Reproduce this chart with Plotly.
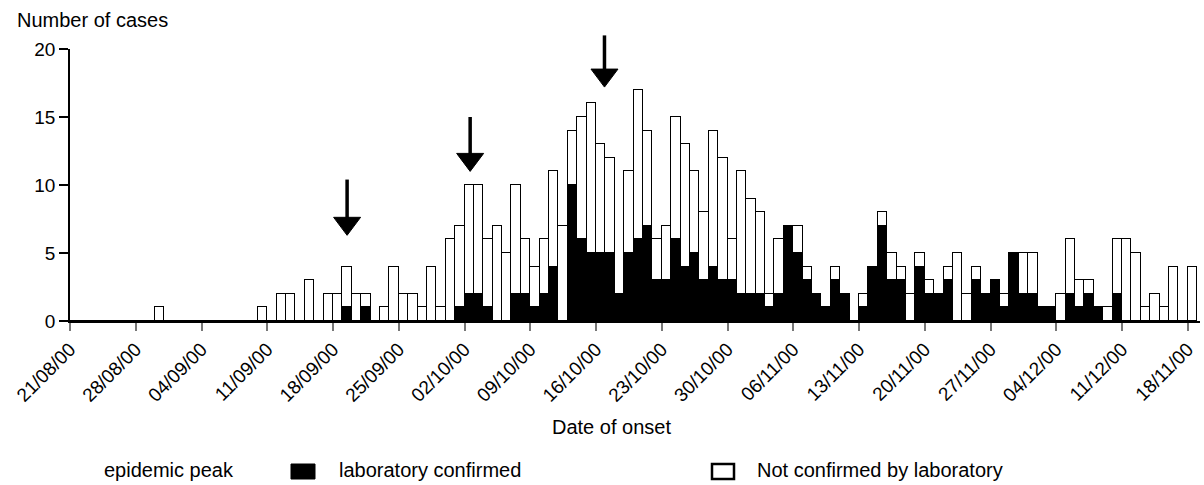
import plotly.graph_objects as go

# ---------------- data ----------------
tick_labels = ["21/08/00", "28/08/00", "04/09/00", "11/09/00", "18/09/00", "25/09/00",
               "02/10/00", "09/10/00", "16/10/00", "23/10/00", "30/10/00", "06/11/00",
               "13/11/00", "20/11/00", "27/11/00", "04/12/00", "11/12/00", "18/11/00"]
tick_days = [7 * k for k in range(len(tick_labels))]

# daily totals (days since 21/08/00)
total_cases = [
    0, 0, 0, 0, 0, 0, 0, 0, 0, 1,      # 0-9
    0, 0, 0, 0, 0, 0, 0, 0, 0, 0,      # 10-19
    1, 0, 2, 2, 0, 3, 0, 2, 2, 4,      # 20-29
    2, 2, 0, 1, 4, 2, 2, 1, 4, 1,      # 30-39
    6, 7, 10, 10, 6, 7, 5, 10, 6, 4,   # 40-49
    6, 11, 7, 14, 15, 16, 13, 12, 2, 11,  # 50-59
    17, 14, 6, 7, 15, 13, 11, 8, 14, 12,  # 60-69
    6, 11, 9, 8, 2, 6, 7, 7, 4, 2,     # 70-79
    1, 4, 2, 0, 2, 4, 8, 5, 4, 2,      # 80-89
    5, 3, 2, 4, 5, 2, 4, 2, 3, 2,      # 90-99
    5, 5, 5, 1, 1, 2, 6, 3, 3, 1,      # 100-109
    1, 6, 6, 5, 1, 2, 1, 4, 0, 4,      # 110-119
]
lab_confirmed = [
    0, 0, 0, 0, 0, 0, 0, 0, 0, 0,
    0, 0, 0, 0, 0, 0, 0, 0, 0, 0,
    0, 0, 0, 0, 0, 0, 0, 0, 0, 1,
    0, 1, 0, 0, 0, 0, 0, 0, 0, 0,
    0, 1, 2, 2, 1, 0, 0, 2, 2, 1,
    2, 4, 0, 10, 6, 5, 5, 5, 2, 5,
    6, 7, 3, 3, 6, 4, 5, 3, 4, 3,
    3, 2, 2, 2, 1, 2, 7, 5, 3, 2,
    1, 3, 2, 0, 1, 4, 7, 3, 3, 0,
    4, 2, 2, 3, 0, 0, 3, 2, 3, 1,
    5, 2, 2, 1, 1, 0, 2, 1, 2, 1,
    0, 2, 0, 0, 0, 0, 0, 0, 0, 0,
]
not_confirmed = [t - c for t, c in zip(total_cases, lab_confirmed)]
days = list(range(len(total_cases)))

# epidemic peak arrows (day position, arrow tip value, arrow tail value)
peak_days = [29.5, 42.6, 56.9]
peak_tip = [6.3, 11.0, 17.2]
peak_tail = [10.4, 15.0, 21.0]

# ---------------- geometry helpers ----------------
W, H = 1204, 485
PL, PR, PT, PB = 70, 1200, 49, 321
XMAX, YMAX = 120.3, 20


def xp(px):
    return (px - PL) / (PR - PL)


def yp(py):
    return (PB - py) / (PB - PT)


FONT = "Liberation Sans, Arial, Helvetica, sans-serif"

fig = go.Figure()
xc = [d + 0.5 for d in days]
fig.add_trace(go.Bar(x=xc, y=lab_confirmed, width=1, name="laboratory confirmed",
                     marker=dict(color="black", line=dict(color="black", width=1.5)),
                     showlegend=False))
fig.add_trace(go.Bar(x=xc, y=not_confirmed, width=1, name="Not confirmed by laboratory",
                     marker=dict(color="white", line=dict(color="black", width=1.5)),
                     showlegend=False))

shapes = []
hw = 13.5 / (PR - PL)
hh = 18 / (PB - PT)
for d, tip, tail in zip(peak_days, peak_tip, peak_tail):
    x0 = d / XMAX
    ytip = tip / YMAX
    ytail = tail / YMAX
    shapes.append(dict(type="line", xref="paper", yref="paper", x0=x0, x1=x0,
                       y0=ytail, y1=ytip + hh * 0.6, line=dict(color="black", width=3.5)))
    shapes.append(dict(type="path", xref="paper", yref="paper",
                       path=f"M {x0 - hw},{ytip + hh} L {x0 + hw},{ytip + hh} L {x0},{ytip} Z",
                       fillcolor="black", line=dict(color="black", width=1)))

# legend squares
shapes.append(dict(type="rect", xref="paper", yref="paper", x0=xp(291), x1=xp(315),
                   y0=yp(479), y1=yp(464), fillcolor="black", line=dict(color="black", width=1)))
shapes.append(dict(type="rect", xref="paper", yref="paper", x0=xp(712), x1=xp(734),
                   y0=yp(479), y1=yp(464), fillcolor="white", line=dict(color="black", width=2.5)))

annotations = [
    dict(text="Number of cases", x=xp(15), y=yp(20), xref="paper", yref="paper",
         xanchor="left", yanchor="middle", showarrow=False, font=dict(size=20)),
    dict(text="Date of onset", x=xp(611), y=yp(427), xref="paper", yref="paper",
         xanchor="center", yanchor="middle", showarrow=False, font=dict(size=20)),
    dict(text="epidemic peak", x=xp(102), y=yp(470), xref="paper", yref="paper",
         xanchor="left", yanchor="middle", showarrow=False, font=dict(size=20)),
    dict(text="laboratory confirmed", x=xp(337), y=yp(470), xref="paper", yref="paper",
         xanchor="left", yanchor="middle", showarrow=False, font=dict(size=20)),
    dict(text="Not confirmed by laboratory", x=xp(755), y=yp(470), xref="paper", yref="paper",
         xanchor="left", yanchor="middle", showarrow=False, font=dict(size=20)),
]

fig.update_layout(
    width=W, height=H,
    margin=dict(l=PL, r=W - PR, t=PT, b=H - PB, pad=0),
    barmode="stack", bargap=0,
    plot_bgcolor="white", paper_bgcolor="white",
    font=dict(family=FONT, color="black", size=19),
    shapes=shapes, annotations=annotations,
    xaxis=dict(range=[0, XMAX], tickvals=tick_days, ticktext=tick_labels,
               tickangle=-45, ticks="outside", ticklen=8, tickwidth=1.5, tickcolor="#777",
               showline=True, linecolor="black", linewidth=1.5,
               showgrid=False, zeroline=False, tickfont=dict(size=19)),
    yaxis=dict(range=[0, YMAX], tickvals=[0, 5, 10, 15, 20], ticks="outside",
               ticklen=9, tickwidth=1.5, tickcolor="black",
               showline=True, linecolor="black", linewidth=1.5,
               showgrid=False, zeroline=False, tickfont=dict(size=19)),
)

fig.write_html("out.html", config={"displayModeBar": False},
               post_script="document.body.style.margin='0';document.body.style.overflow='hidden';")
